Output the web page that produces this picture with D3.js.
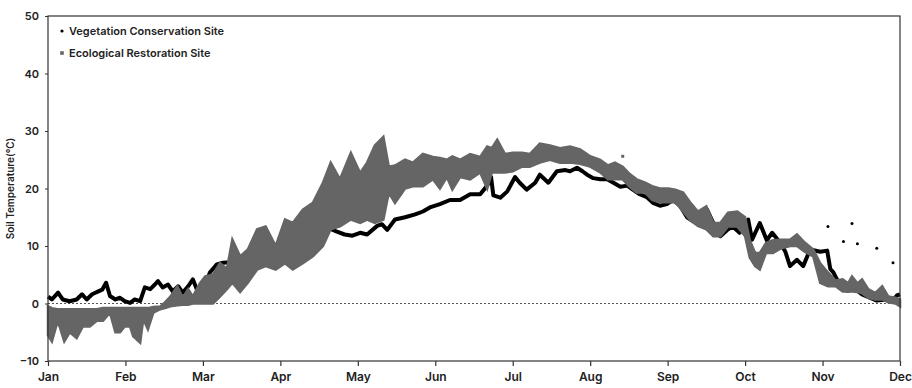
<!DOCTYPE html>
<html>
<head>
<meta charset="utf-8">
<script src="https://cdn.jsdelivr.net/npm/d3@7"></script>
<style>
  body { margin: 0; background: #fff; }
  svg text { font-family: Inter, "Noto Sans", sans-serif; }
</style>
</head>
<body>
<svg id="chart" width="912" height="388"></svg>
<script>
// month labels (x axis positions are month index, Jan = 0)
const months = ["Jan", "Feb", "Mar", "Apr", "May", "Jun", "Jul", "Aug", "Sep", "Oct", "Nov", "Dec"];
const yTicks = [-10, 0, 10, 20, 30, 40, 50];

// Vegetation Conservation Site: [month position, soil temperature]
const vegetation = [
  [0.00, 1.2], [0.05, 0.7], [0.13, 1.9], [0.19, 0.7], [0.28, 0.4], [0.37, 0.7], [0.44, 1.6],
  [0.50, 0.7], [0.57, 1.6], [0.65, 2.1], [0.70, 2.4], [0.75, 3.6], [0.80, 1.3], [0.87, 0.7],
  [0.93, 1.0], [0.99, 0.4], [1.06, 0.1], [1.12, 0.7], [1.19, 0.4], [1.25, 2.8], [1.32, 2.5],
  [1.38, 3.3], [1.42, 3.9], [1.48, 2.8], [1.55, 3.3], [1.61, 2.1], [1.68, 3.0], [1.74, 1.9],
  [1.81, 3.0], [1.87, 4.2], [1.92, 2.5], [1.96, 1.5], [2.03, 3.0], [2.09, 5.4], [2.18, 6.8],
  [2.26, 7.1], [2.41, 7.2], [2.61, 8.0], [2.74, 8.8], [2.96, 8.5], [3.12, 7.5], [3.25, 9.0],
  [3.34, 9.8], [3.45, 10.5], [3.55, 12.3], [3.64, 13.0], [3.73, 12.5], [3.83, 12.0], [3.93, 11.8],
  [4.03, 12.3], [4.12, 12.0], [4.25, 13.5], [4.31, 13.8], [4.38, 12.8], [4.48, 14.6], [4.61, 15.0],
  [4.74, 15.5], [4.84, 16.0], [4.93, 16.7], [5.06, 17.3], [5.19, 18.0], [5.32, 18.0], [5.45, 19.0],
  [5.58, 19.0], [5.67, 20.5], [5.72, 22.0], [5.75, 18.8], [5.84, 18.4], [5.93, 19.5], [6.03, 22.0],
  [6.09, 21.0], [6.18, 19.8], [6.29, 21.0], [6.35, 22.4], [6.46, 21.0], [6.57, 23.0], [6.68, 23.2],
  [6.74, 23.0], [6.83, 23.6], [6.90, 23.0], [6.96, 22.4], [7.04, 21.8], [7.13, 21.6], [7.22, 21.6],
  [7.30, 21.0], [7.39, 20.3], [7.48, 20.5], [7.55, 19.8], [7.64, 19.0], [7.73, 18.5], [7.81, 17.5],
  [7.90, 17.0], [7.99, 17.3], [8.07, 18.0], [8.16, 17.0], [8.25, 15.0], [8.33, 14.3], [8.42, 14.5],
  [8.51, 16.3], [8.59, 14.0], [8.68, 11.7], [8.77, 12.8], [8.84, 13.4], [8.93, 12.3], [9.04, 14.6],
  [9.09, 11.1], [9.19, 14.0], [9.28, 11.0], [9.35, 12.3], [9.45, 10.6], [9.52, 9.0], [9.58, 6.5],
  [9.67, 7.6], [9.75, 6.5], [9.84, 9.4], [9.97, 9.0], [10.06, 9.2], [10.10, 6.0], [10.14, 5.4],
  [10.23, 3.0], [10.32, 2.2], [10.42, 2.5], [10.51, 1.6], [10.61, 1.0], [10.70, 0.5], [10.83, 0.7],
  [10.91, 0.6], [10.96, 1.4], [11.00, 1.6]
];
// isolated readings of the vegetation site in November
const vegetationDots = [[10.07, 13.4], [10.38, 13.9], [10.27, 10.8], [10.45, 10.4], [10.70, 9.6], [10.91, 7.1]];

// Ecological Restoration Site: [month position, daily high, daily low]
const restoration = [
  [0.00, -0.5, -5.5], [0.05, -0.8, -6.6], [0.12, -1.0, -3.3], [0.15, -1.0, -4.0], [0.21, -1.0, -6.6],
  [0.28, -1.0, -5.0], [0.37, -1.0, -6.0], [0.45, -1.0, -4.0], [0.54, -1.0, -4.0], [0.63, -1.0, -3.0],
  [0.71, -0.8, -3.0], [0.80, -0.8, -1.6], [0.87, -0.8, -5.0], [0.93, -0.8, -5.0], [0.99, -0.8, -4.0],
  [1.06, -0.8, -4.0], [1.10, -0.8, -5.7], [1.19, -0.8, -6.8], [1.23, -0.8, -2.7], [1.29, -0.8, -4.5],
  [1.36, -0.6, -1.6], [1.45, -0.5, -1.0], [1.51, 0.2, -0.8], [1.58, 1.2, -0.5], [1.67, 3.0, -0.3],
  [1.74, 1.0, -0.2], [1.81, 2.5, -0.2], [1.87, 1.2, 0.0], [1.96, 3.5, 0.0], [2.03, 4.7, 0.0],
  [2.13, 5.0, 0.0], [2.22, 7.0, 1.2], [2.31, 6.0, 2.5], [2.38, 11.1, 3.6], [2.48, 8.2, 2.0],
  [2.58, 9.4, 3.6], [2.70, 12.9, 5.9], [2.81, 13.4, 6.5], [2.94, 10.0, 5.9], [3.06, 14.6, 7.0],
  [3.16, 14.0, 5.9], [3.29, 16.3, 7.0], [3.42, 17.5, 8.2], [3.55, 21.0, 10.0], [3.65, 24.5, 12.9],
  [3.77, 21.6, 13.4], [3.91, 26.2, 14.6], [4.03, 22.7, 14.0], [4.12, 24.5, 14.6], [4.22, 27.5, 14.0],
  [4.33, 29.0, 14.6], [4.40, 23.8, 19.3], [4.48, 24.0, 17.5], [4.61, 25.0, 20.0], [4.71, 24.5, 20.4],
  [4.84, 26.0, 20.4], [4.97, 25.5, 21.6], [5.06, 25.3, 20.0], [5.15, 25.0, 22.0], [5.22, 25.6, 19.8],
  [5.32, 25.0, 22.0], [5.45, 26.0, 21.6], [5.58, 25.5, 22.8], [5.67, 27.3, 20.0], [5.73, 27.0, 22.8],
  [5.80, 28.5, 22.8], [5.90, 26.0, 22.8], [6.00, 26.2, 23.0], [6.12, 26.2, 23.8], [6.22, 26.0, 23.8],
  [6.35, 27.8, 24.5], [6.48, 27.5, 25.0], [6.61, 27.0, 24.5], [6.74, 27.3, 24.5], [6.87, 26.8, 24.3],
  [7.00, 25.6, 23.8], [7.13, 25.0, 22.8], [7.23, 24.0, 21.6], [7.32, 24.5, 21.6], [7.42, 23.8, 21.6],
  [7.51, 22.5, 20.3], [7.60, 21.6, 19.3], [7.71, 21.0, 19.3], [7.80, 20.4, 18.0], [7.90, 20.0, 17.6],
  [8.01, 20.0, 17.6], [8.10, 19.8, 17.6], [8.20, 19.3, 16.0], [8.29, 17.6, 14.5], [8.39, 16.0, 13.5],
  [8.50, 16.9, 12.9], [8.59, 14.0, 11.7], [8.68, 14.0, 11.7], [8.78, 15.8, 13.4], [8.90, 16.0, 13.4],
  [9.00, 15.0, 11.7], [9.06, 11.0, 8.0], [9.13, 8.8, 6.5], [9.19, 8.8, 5.9], [9.27, 10.5, 8.8],
  [9.36, 11.0, 8.8], [9.45, 11.1, 9.5], [9.58, 11.1, 10.0], [9.67, 12.0, 10.0], [9.77, 10.6, 9.0],
  [9.88, 9.4, 8.2], [9.97, 7.0, 3.6], [10.07, 5.4, 3.0], [10.17, 4.0, 3.0], [10.26, 4.2, 2.1],
  [10.33, 3.5, 2.1], [10.38, 4.7, 2.1], [10.45, 3.5, 2.0], [10.51, 4.2, 1.8], [10.59, 2.5, 1.0],
  [10.68, 1.8, 0.7], [10.77, 3.0, 0.7], [10.85, 1.2, 0.2], [10.94, 1.0, 0.0], [11.00, 0.7, -0.5]
];
const restorationDots = [[7.42, 25.6]];

const vegColor = "#000";
const resColor = "#656565";

function renderChart() {
    const svg = d3.select("#chart"),
        plot = { left: 48, right: 900, top: 16, bottom: 361 };

    const x = d3.scaleLinear().domain([0, months.length - 1]).range([plot.left, plot.right]);
    const y = d3.scaleLinear().domain([-10, 50]).range([plot.bottom, plot.top]);

    // zero reference line
    svg.append("line")
        .attr("x1", plot.left).attr("x2", plot.right)
        .attr("y1", y(0)).attr("y2", y(0))
        .attr("stroke", "#555").attr("stroke-width", 1)
        .attr("stroke-dasharray", "2,2");

    // vegetation site line (drawn first, the restoration band sits over it)
    const line = d3.line()
        .x(d => x(d[0]))
        .y(d => y(d[1]));
    svg.append("path")
        .datum(vegetation)
        .attr("d", line)
        .attr("fill", "none")
        .attr("stroke", vegColor)
        .attr("stroke-width", 4)
        .attr("stroke-linejoin", "round");

    svg.selectAll(".veg-dot")
        .data(vegetationDots)
        .enter().append("circle")
        .attr("class", "veg-dot")
        .attr("cx", d => x(d[0])).attr("cy", d => y(d[1]))
        .attr("r", 1.5)
        .attr("fill", vegColor);

    // restoration site: band between daily low and high
    const band = d3.area()
        .x(d => x(d[0]))
        .y0(d => y(d[2]))
        .y1(d => y(d[1]));
    svg.append("path")
        .datum(restoration)
        .attr("d", band)
        .attr("fill", resColor)
        .attr("stroke", resColor)
        .attr("stroke-width", 2.5)
        .attr("stroke-linejoin", "miter");

    svg.selectAll(".res-dot")
        .data(restorationDots)
        .enter().append("rect")
        .attr("class", "res-dot")
        .attr("x", d => x(d[0]) - 1.5).attr("y", d => y(d[1]) - 1.5)
        .attr("width", 3).attr("height", 3)
        .attr("fill", resColor);

    // frame
    svg.append("rect")
        .attr("x", plot.left).attr("y", plot.top)
        .attr("width", plot.right - plot.left).attr("height", plot.bottom - plot.top)
        .attr("fill", "none").attr("stroke", "#333").attr("stroke-width", 1.2);

    // axes
    const xAxis = svg.append("g")
        .attr("transform", "translate(0," + plot.bottom + ")")
        .call(d3.axisBottom(x)
            .tickValues(months.map((m, i) => i))
            .tickFormat(i => months[i])
            .tickSize(5)
            .tickPadding(6));
    xAxis.select(".domain").remove();
    xAxis.selectAll("line").attr("stroke", "#333").attr("stroke-width", 1.2);
    xAxis.selectAll("text")
        .attr("font-size", 12).attr("font-weight", 600).attr("fill", "#222");

    const yAxis = svg.append("g")
        .attr("transform", "translate(" + plot.left + ",0)")
        .call(d3.axisLeft(y).tickValues(yTicks).tickSize(3).tickPadding(6));
    yAxis.select(".domain").remove();
    yAxis.selectAll("line").attr("stroke", "#333");
    yAxis.selectAll("text")
        .attr("font-size", 11).attr("font-weight", 600).attr("fill", "#222");

    svg.append("text")
        .attr("transform", "translate(14," + y(20) + ") rotate(-90)")
        .attr("text-anchor", "middle")
        .attr("font-size", 10).attr("font-weight", 600).attr("fill", "#222")
        .text("Soil Temperature(℃)");

    // legend
    const legend = svg.append("g").attr("transform", "translate(62,31)");
    legend.append("circle").attr("cx", 0).attr("cy", 0).attr("r", 1.6).attr("fill", vegColor);
    legend.append("text").attr("x", 7).attr("y", 4)
        .attr("font-size", 11).attr("font-weight", 600).attr("fill", "#222")
        .text("Vegetation Conservation Site");
    legend.append("rect").attr("x", -1.8).attr("y", 20.2).attr("width", 3.6).attr("height", 3.6).attr("fill", resColor);
    legend.append("text").attr("x", 7).attr("y", 26)
        .attr("font-size", 11).attr("font-weight", 600).attr("fill", "#222")
        .text("Ecological Restoration Site");
}

renderChart();
</script>
</body>
</html>
